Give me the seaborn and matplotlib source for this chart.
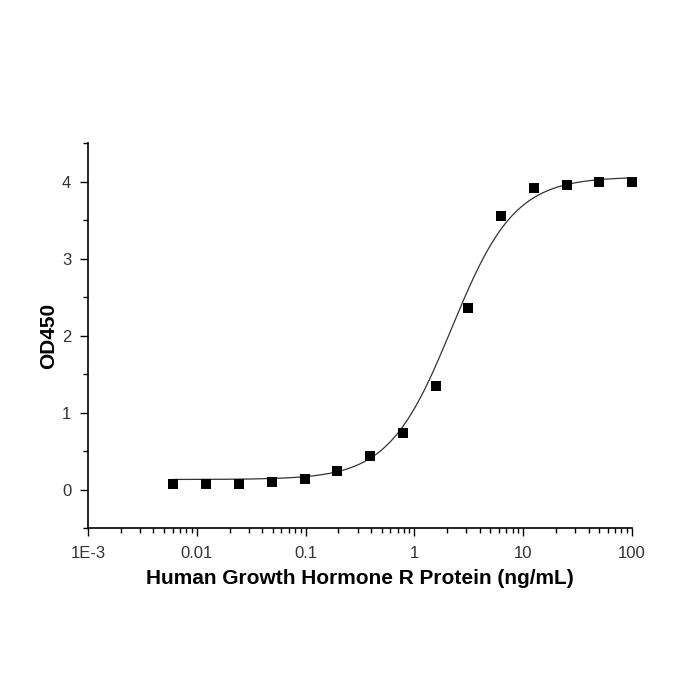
import numpy as np
import pandas as pd
import seaborn as sns
import matplotlib.pyplot as plt
from matplotlib.ticker import FixedLocator, FixedFormatter, LogLocator, MultipleLocator

# concentrations (ng/mL) and measured OD450
conc = [0.0061, 0.0122, 0.0244, 0.0488, 0.0977, 0.195, 0.391, 0.781,
        1.5625, 3.125, 6.25, 12.5, 25, 50, 100]
od450 = [0.07, 0.07, 0.07, 0.10, 0.14, 0.24, 0.43, 0.74,
         1.35, 2.36, 3.55, 3.91, 3.96, 3.99, 3.99]

# 4PL fit parameters
fit_bottom = 0.13
fit_top = 4.06
fit_ec50 = 2.2
fit_hill = 1.5

x_ticks = [0.001, 0.01, 0.1, 1, 10, 100]
x_tick_labels = ['1E-3', '0.01', '0.1', '1', '10', '100']
y_ticks = [0, 1, 2, 3, 4]

sns.set_style('ticks')
plt.rcParams['font.family'] = ['Liberation Sans', 'DejaVu Sans']

dados = pd.DataFrame({'conc': conc, 'od': od450})
xs = np.logspace(np.log10(conc[0]), np.log10(conc[-1]), 300)
curva = pd.DataFrame({'conc': xs,
                      'od': fit_bottom + (fit_top - fit_bottom) / (1 + (fit_ec50 / xs) ** fit_hill)})

fig = plt.figure(figsize=(7, 7), dpi=100)
ax = fig.add_axes([0.1257, 0.2457, 0.7772, 0.55])

sns.lineplot(data=curva, x='conc', y='od', ax=ax, color='#333333', linewidth=0.9)
sns.scatterplot(data=dados, x='conc', y='od', ax=ax, marker='s', s=55,
                color='black', edgecolor='black', linewidth=0, zorder=3, clip_on=False)

ax.set_xscale('log')
ax.set_xlim(0.001, 100)
ax.set_ylim(-0.5, 4.5)
ax.xaxis.set_major_locator(FixedLocator(x_ticks))
ax.xaxis.set_major_formatter(FixedFormatter(x_tick_labels))
ax.xaxis.set_minor_locator(LogLocator(base=10, subs=np.arange(2, 10), numticks=20))
ax.yaxis.set_major_locator(FixedLocator(y_ticks))
ax.yaxis.set_minor_locator(MultipleLocator(0.5))

ax.tick_params(axis='both', which='major', length=6, width=1, labelsize=12, color='black', labelcolor='#333333')
ax.tick_params(axis='x', which='major', pad=7)
ax.tick_params(axis='y', which='major', pad=6)
ax.tick_params(axis='both', which='minor', length=3.5, width=1, color='black')

for side in ['top', 'right']:
    ax.spines[side].set_visible(False)
for side in ['left', 'bottom']:
    ax.spines[side].set_linewidth(1.2)
    ax.spines[side].set_color('black')

ax.set_xlabel('Human Growth Hormone R Protein (ng/mL)', fontsize=15, fontweight='bold',
              labelpad=6, color='black')
ax.set_ylabel('OD450', fontsize=15, fontweight='bold', labelpad=3, color='black')

plt.savefig('out.png', dpi=100, facecolor='white')
